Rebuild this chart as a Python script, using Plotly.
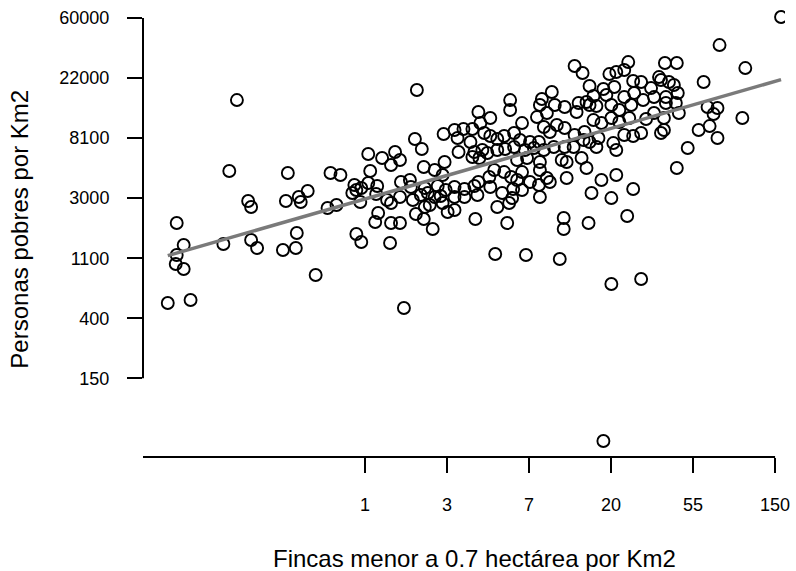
import numpy as np
import plotly.graph_objects as go

# natural-log values (ln of fincas/Km2 and ln of personas pobres/Km2)
log_fincas = [
    -1.561, -1.654, -0.940, -0.420, -0.299, -0.129, -0.105, -0.154, -1.424, -1.388,
    -0.964, -0.807, -0.698, -0.783, -0.456, -0.347, -0.057, -2.295, -2.210, -2.295,
    -2.307, -2.210, -1.726, -1.388, -1.315, -1.000, -0.843, -0.831, -0.601, -0.105,
    -0.045, -2.404, -2.126, 0.475, 2.907, 0.633, 1.770, 1.770, 1.383, 1.528,
    1.407, 0.959, 1.092, 1.201, 1.310, 1.129, 1.286, 1.455, 1.528, 1.613,
    1.697, 1.818, 0.609, 0.693, 0.367, 0.040, 0.209, 0.427, 0.318, 1.141,
    1.334, 1.431, 1.492, 1.613, 1.709, 1.818, 1.395, 1.310, 0.971, 0.717,
    0.850, 0.947, 0.064, 0.040, 0.149, 0.439, 0.548, 0.560, 0.730, 0.887,
    0.984, 1.092, 1.213, 1.334, 1.383, 1.516, 1.576, 1.697, 1.782, 1.528,
    1.673, 1.807, 1.371, 0.681, 0.850, 1.092, 1.213, -0.045, 0.137, 0.270,
    0.318, 0.427, 0.584, 0.766, 0.790, 0.730, 0.923, 0.947, 1.092, 1.008,
    1.794, 1.758, 0.161, 0.125, 0.318, 0.427, 0.621, 0.717, 0.826, 0.306,
    1.346, 1.613, 1.734, 1.588, 2.556, 2.653, 3.210, 3.161, 3.064, 2.980,
    3.270, 3.367, 2.738, 2.907, 3.040, 2.943, 3.161, 3.282, 2.786, 2.278,
    2.157, 2.314, 2.605, 2.701, 3.391, 2.435, 2.822, 1.915, 2.133, 2.580,
    2.738, 3.004, 3.101, 3.246, 2.097, 2.218, 2.339, 2.435, 2.181, 2.254,
    2.677, 2.786, 2.883, 3.004, 3.101, 3.222, 1.891, 2.012, 2.121, 2.556,
    2.665, 2.738, 2.847, 3.028, 3.064, 3.161, 3.270, 3.367, 1.951, 2.060,
    2.181, 2.302, 2.435, 2.544, 2.822, 1.855, 1.976, 2.133, 2.399, 2.459,
    2.641, 2.701, 1.915, 2.133, 2.218, 2.459, 1.855, 2.012, 2.121, 2.254,
    1.915, 3.064, 2.883, 2.762, 3.004, 3.270, 2.133, 2.423, 2.423, 2.726,
    3.197, 1.963, 2.375, 3.004, 3.367, 5.073, 4.323, 4.637, 4.129, 3.657,
    3.802, 3.585, 3.609, 3.488, 3.706, 3.766, 3.524, 3.669, 3.814, 3.669,
    3.790, 4.177, 4.298, 3.524, 3.827, 3.645, 3.427, 4.250, 4.601, 3.609,
    3.645, 4.068, 4.202, 4.298, 3.935, 3.802,
]
log_pobres = [
    9.634, 8.452, 8.419, 8.419, 8.386, 8.219, 8.136, 8.086, 7.953, 7.853,
    7.953, 8.019, 8.119, 7.936, 7.836, 7.886, 7.936, 7.586, 7.220, 7.053,
    6.903, 6.820, 7.236, 7.303, 7.170, 7.137, 7.170, 7.420, 6.720, 7.403,
    7.270, 6.254, 6.304, 6.171, 3.956, 9.801, 9.634, 9.468, 9.435, 9.335,
    9.251, 9.068, 9.135, 9.152, 9.152, 9.002, 8.935, 9.085, 9.035, 8.985,
    9.035, 9.085, 8.985, 8.819, 8.769, 8.735, 8.669, 8.635, 8.552, 8.769,
    8.769, 8.802, 8.752, 8.802, 8.819, 8.852, 8.669, 8.685, 8.602, 8.519,
    8.469, 8.386, 8.452, 8.252, 8.202, 8.269, 8.302, 8.186, 8.169, 8.202,
    8.136, 8.186, 8.152, 8.202, 8.269, 8.352, 8.469, 8.435, 8.352, 8.186,
    8.086, 8.152, 8.052, 8.052, 8.019, 8.019, 8.019, 8.169, 8.069, 7.969,
    7.919, 8.019, 7.969, 8.086, 7.886, 7.853, 8.036, 7.919, 7.803, 7.769,
    8.002, 7.919, 7.753, 7.603, 7.586, 7.586, 7.736, 7.653, 7.486, 7.253,
    7.653, 7.853, 7.586, 7.070, 10.201, 10.084, 10.267, 10.134, 10.101, 10.067,
    9.951, 9.934, 9.868, 9.818, 9.851, 9.718, 9.684, 9.751, 9.701, 9.768,
    9.651, 9.551, 9.585, 9.601, 9.634, 9.518, 9.535, 9.251, 9.551, 9.435,
    9.551, 9.551, 9.468, 9.551, 9.351, 9.418, 9.218, 9.168, 9.185, 9.102,
    9.102, 9.301, 9.251, 9.335, 9.268, 9.335, 8.968, 8.935, 8.935, 9.052,
    8.968, 8.935, 9.002, 8.918, 8.802, 9.052, 9.035, 9.085, 8.802, 8.835,
    8.802, 8.852, 8.852, 8.852, 8.852, 8.635, 8.669, 8.602, 8.635, 8.602,
    8.669, 8.502, 8.435, 8.469, 8.336, 8.336, 8.302, 8.269, 8.219, 8.269,
    8.136, 8.386, 8.302, 8.086, 8.002, 8.152, 8.019, 7.669, 7.486, 7.586,
    7.703, 7.053, 6.987, 6.570, 6.654, 11.017, 10.550, 10.167, 9.934, 10.251,
    10.251, 10.017, 9.968, 9.834, 9.934, 9.884, 9.684, 9.684, 9.751, 9.585,
    9.585, 9.518, 9.501, 9.418, 9.418, 9.335, 9.318, 9.401, 9.335, 9.085,
    9.135, 9.135, 9.201, 9.002, 8.835, 8.502,
]

# fitted line: ln(pobres) = a + b * ln(fincas)
fit_intercept = 7.986
fit_slope = 0.392

x_tick_logs = [0, 1, 2, 3, 4, 5]
x_tick_labels = ["1", "3", "7", "20", "55", "150"]
y_tick_logs = [5, 6, 7, 8, 9, 10, 11]
y_tick_labels = ["150", "400", "1100", "3000", "8100", "22000", "60000"]

x_title = "Fincas menor a 0.7 hectárea por Km2"
y_title = "Personas pobres por Km2"

FONT = "Liberation Sans, Arial, Helvetica, sans-serif"
x_range = [-2.706, 5.121]
y_range = [3.689, 11.167]

fig = go.Figure()
fig.add_trace(go.Scatter(
    x=log_fincas, y=log_pobres, mode="markers",
    marker=dict(symbol="circle-open", size=12, color="black",
                line=dict(width=1.9, color="black")),
    hoverinfo="skip", showlegend=False,
))
xs = np.array([min(log_fincas), max(log_fincas)])
fig.add_trace(go.Scatter(
    x=xs, y=fit_intercept + fit_slope * xs, mode="lines",
    line=dict(color="#7a7a7a", width=3.5),
    hoverinfo="skip", showlegend=False,
))

fig.update_layout(
    width=796, height=571,
    margin=dict(l=143, r=6, t=8, b=114),
    paper_bgcolor="white", plot_bgcolor="white",
    font=dict(family=FONT, color="black"),
    xaxis=dict(range=x_range, showgrid=False, zeroline=False, showline=False,
               tickmode="array", tickvals=x_tick_logs, ticktext=x_tick_labels,
               ticks="outside", ticklen=15, tickwidth=2, tickcolor="black",
               ticklabelstandoff=16, tickfont=dict(size=18, family=FONT)),
    yaxis=dict(range=y_range, showgrid=False, zeroline=False, showline=False,
               tickmode="array", tickvals=y_tick_logs, ticktext=y_tick_labels,
               ticks="outside", ticklen=15, tickwidth=2, tickcolor="black",
               ticklabelstandoff=14, tickfont=dict(size=18, family=FONT)),
    shapes=[
        dict(type="line", xref="paper", yref="y", x0=0, x1=0,
             y0=y_tick_logs[0], y1=y_tick_logs[-1], line=dict(color="black", width=2)),
        dict(type="line", xref="x", yref="paper", x0=x_range[0], x1=x_tick_logs[-1],
             y0=0, y1=0, line=dict(color="black", width=2)),
    ],
    annotations=[
        dict(text=x_title, xref="paper", yref="paper", x=0.516, y=-0.225,
             xanchor="center", yanchor="middle", showarrow=False,
             font=dict(size=24, family=FONT)),
        dict(text=y_title, xref="paper", yref="paper", x=-0.192, y=0.508,
             xanchor="center", yanchor="middle", showarrow=False, textangle=-90,
             font=dict(size=24, family=FONT)),
    ],
)

fig.write_html("out.html")
